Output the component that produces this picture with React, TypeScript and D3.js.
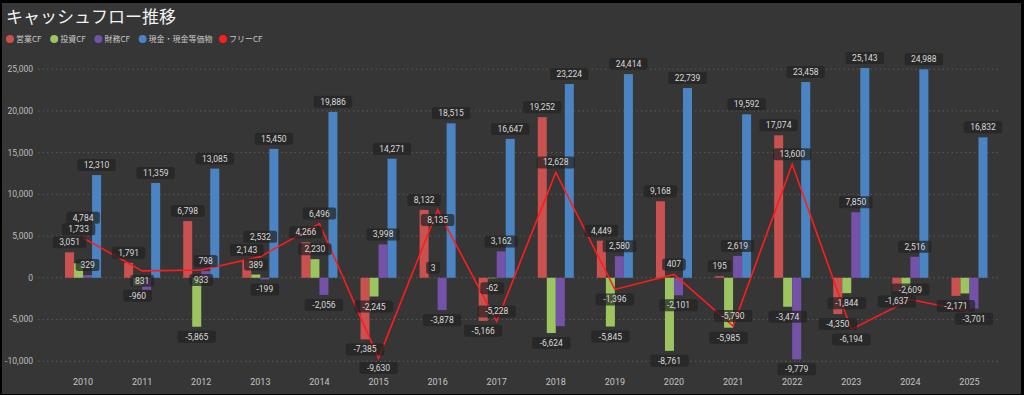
import React from 'react';
import * as d3 from 'd3';

const years = ['2010', '2011', '2012', '2013', '2014', '2015', '2016', '2017', '2018', '2019', '2020', '2021', '2022', '2023', '2024', '2025'];
const operatingCF = [3051, 1791, 6798, 2143, 4266, -7385, 8132, -5166, 19252, 4449, 9168, 195, 17074, -4350, -1637, -2171];
const investingCF = [1733, -960, -5865, 389, 2230, -2245, 3, -62, -6624, -5845, -8761, -5985, -3474, -1844, -972, -1880];
const financingCF = [329, -1500, 798, -199, -2056, 3998, -3878, 3162, -5800, 2580, -2101, 2619, -9779, 7850, 2516, -3701];
const cashEquiv = [12310, 11359, 13085, 15450, 19886, 14271, 18515, 16647, 23224, 24414, 22739, 19592, 23458, 25143, 24988, 16832];
const freeCF = [4784, 831, 933, 2532, 6496, -9630, 8135, -5228, 12628, -1396, 407, -5790, 13600, -6194, -2609, -4051];
const yTicks = [-10000, -5000, 0, 5000, 10000, 15000, 20000, 25000];

// labels that the original hides (overlap)
const hiddenLabels = ['fin-2011', 'fin-2018', 'inv-2024', 'inv-2025', 'fcf-2025'];

const barSeries = [
    { key: 'op', name: '営業CF', color: '#c95150', values: operatingCF },
    { key: 'inv', name: '投資CF', color: '#9cc45f', values: investingCF },
    { key: 'fin', name: '財務CF', color: '#7352a7', values: financingCF },
    { key: 'cash', name: '現金・現金等価物', color: '#4a84c3', values: cashEquiv },
];
const lineColor = '#ff1c1c';

const width = 1024;
const height = 395;
const fmt = (v: number) => d3.format(',')(v).replace('\u2212', '-');
const font = 'Roboto, "Noto Sans CJK JP", sans-serif';
const labelW = (t: string) => t.length * 4.9 + 9;

type Box = { x: number; y: number; text: string };

const Label = ({ x, y, text }: Box) => {
    const w = labelW(text);
    return (
        <g>
            <rect x={x - w / 2} y={y - 6} width={w} height={12} rx={2.5} fill="rgba(34,34,34,0.72)" />
            <text x={x} y={y + 3} textAnchor="middle" fontSize={8.5} fill="#d8d8d8" fontFamily={font}>
                {text}
            </text>
        </g>
    );
};

const App = () => {
    const x = d3.scaleBand().domain(years).range([53.5, 999]).paddingInner(0.39).paddingOuter(0.195);
    const xInner = d3.scaleBand().domain(barSeries.map((s) => s.key)).range([0, x.bandwidth()]);
    const y = d3.scaleLinear().domain([-10000, 25000]).range([361.2, 69.2]);

    const line = d3
        .line<number>()
        .x((_, i) => (x(years[i]) as number) + x.bandwidth() / 2)
        .y((d) => y(d));

    // simple greedy placement so the value boxes don't pile up
    const placed: Box[] = [];
    const hits = (a: Box) =>
        placed.some(
            (b) => Math.abs(a.x - b.x) < (labelW(a.text) + labelW(b.text)) / 2 - 1 && Math.abs(a.y - b.y) < 11
        );
    const place = (cx: number, candidates: number[], text: string, dxs = [0]) => {
        for (const dx of dxs) {
            for (const cy of candidates) {
                const b = { x: cx + dx, y: cy, text };
                if (!hits(b)) {
                    placed.push(b);
                    return;
                }
            }
        }
        placed.push({ x: cx, y: candidates[0], text });
    };

    barSeries.forEach((s) => {
        s.values.forEach((v, i) => {
            if (hiddenLabels.includes(`${s.key}-${years[i]}`)) return;
            const cx = (x(years[i]) as number) + (xInner(s.key) as number) + xInner.bandwidth() / 2;
            const d = v >= 0 ? -1 : 1;
            const base = y(v) + d * 10;
            place(cx, [base, base + d * 12, base + d * 24], fmt(v), [0, -6, 6]);
        });
    });
    freeCF.forEach((v, i) => {
        if (hiddenLabels.includes(`fcf-${years[i]}`)) return;
        const cx = (x(years[i]) as number) + x.bandwidth() / 2;
        const py = y(v);
        const order = v >= 0 ? [py - 10, py + 10, py - 20, py + 20] : [py + 10, py - 10, py + 20, py - 20];
        place(cx, order, fmt(v), [0, 8, -8, 14]);
    });

    const legend = [...barSeries.map((s) => ({ name: s.name, color: s.color })), { name: 'フリーCF', color: lineColor }];
    let lx = 10;

    return (
        <svg width={width} height={height} style={{ position: 'absolute', left: 0, top: 0 }}>
            <rect x={0} y={0} width={width} height={height} fill="#000" />
            <rect x={2} y={3} width={width - 5} height={height - 4} fill="#363636" />
            <text x={6} y={23} fontSize={17} fill="#f2f2f2" fontFamily='"Noto Sans CJK JP", sans-serif'>
                キャッシュフロー推移
            </text>
            <g>
                {legend.map((d) => {
                    const cx = lx;
                    lx += 14 + d.name.length * 8.3 + (d.name.includes('CF') ? -3 : 0);
                    return (
                        <g key={d.name}>
                            <circle cx={cx} cy={39} r={4} fill={d.color} />
                            <text x={cx + 6} y={42} fontSize={8} fill="#c8c8c8" fontFamily='"Noto Sans CJK JP", sans-serif'>
                                {d.name}
                            </text>
                        </g>
                    );
                })}
            </g>
            {yTicks.map((t) => (
                <g key={t}>
                    <line x1={38} x2={1000} y1={y(t)} y2={y(t)} stroke="#5a5a5a" strokeDasharray="1.5,3" />
                    <text x={33} y={y(t) + 3} textAnchor="end" fontSize={8.5} fill="#bdbdbd" fontFamily={font}>
                        {fmt(t)}
                    </text>
                </g>
            ))}
            {years.map((yr) => (
                <text key={yr} x={(x(yr) as number) + x.bandwidth() / 2} y={385} textAnchor="middle" fontSize={9} fill="#c4c4c4" fontFamily={font}>
                    {yr}
                </text>
            ))}
            {barSeries.map((s) => (
                <g key={s.key}>
                    {s.values.map((v, i) => (
                        <rect
                            key={i}
                            x={(x(years[i]) as number) + (xInner(s.key) as number)}
                            y={y(Math.max(0, v))}
                            width={xInner.bandwidth()}
                            height={Math.abs(y(v) - y(0))}
                            fill={s.color}
                        />
                    ))}
                </g>
            ))}
            <path d={line(freeCF) as string} fill="none" stroke={lineColor} strokeWidth={1.6} />
            {placed.map((l, i) => (
                <Label key={i} {...l} />
            ))}
        </svg>
    );
};

export default App;
